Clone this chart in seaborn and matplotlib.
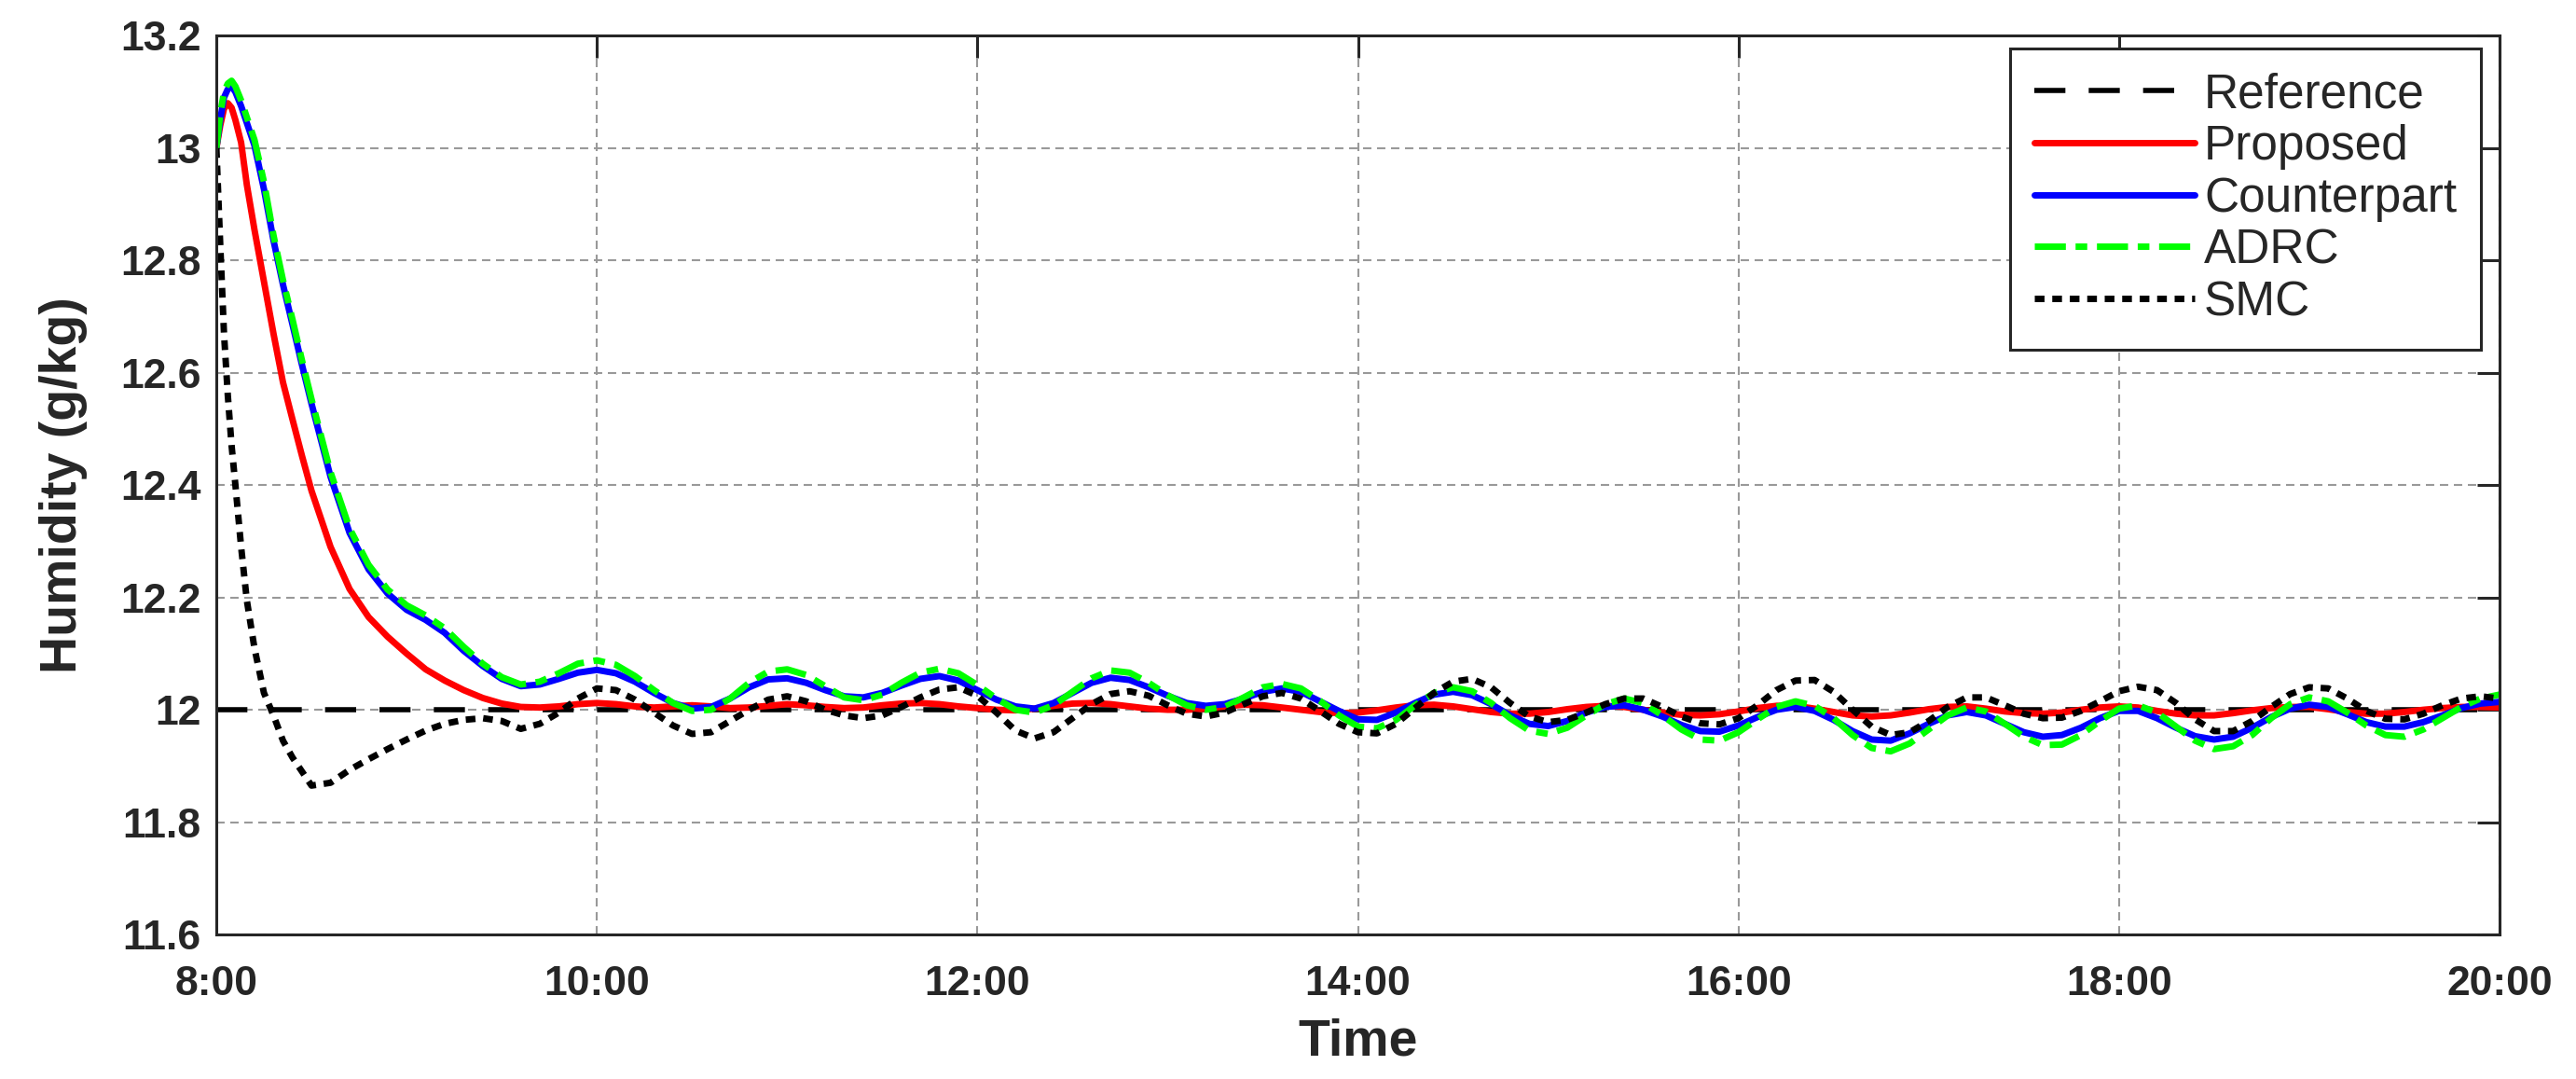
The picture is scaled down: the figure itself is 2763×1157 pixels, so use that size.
import matplotlib
matplotlib.use('Agg')
import pandas as pd
import seaborn as sns
import matplotlib.pyplot as plt
from matplotlib.ticker import FuncFormatter

# Time axis (hours of the day), denser during the start-up transient
hours = [
    8.00, 8.02, 8.04, 8.06, 8.08, 8.10, 8.13, 8.16, 8.20, 8.25,
    8.30, 8.35, 8.40, 8.45, 8.50, 8.60, 8.70, 8.80, 8.90, 9.00,
    9.1, 9.2, 9.3, 9.4, 9.5, 9.6, 9.7, 9.8, 9.9, 10.0,
    10.1, 10.2, 10.3, 10.4, 10.5, 10.6, 10.7, 10.8, 10.9, 11.0,
    11.1, 11.2, 11.3, 11.4, 11.5, 11.6, 11.7, 11.8, 11.9, 12.0,
    12.1, 12.2, 12.3, 12.4, 12.5, 12.6, 12.7, 12.8, 12.9, 13.0,
    13.1, 13.2, 13.3, 13.4, 13.5, 13.6, 13.7, 13.8, 13.9, 14.0,
    14.1, 14.2, 14.3, 14.4, 14.5, 14.6, 14.7, 14.8, 14.9, 15.0,
    15.1, 15.2, 15.3, 15.4, 15.5, 15.6, 15.7, 15.8, 15.9, 16.0,
    16.1, 16.2, 16.3, 16.4, 16.5, 16.6, 16.7, 16.8, 16.9, 17.0,
    17.1, 17.2, 17.3, 17.4, 17.5, 17.6, 17.7, 17.8, 17.9, 18.0,
    18.1, 18.2, 18.3, 18.4, 18.5, 18.6, 18.7, 18.8, 18.9, 19.0,
    19.1, 19.2, 19.3, 19.4, 19.5, 19.6, 19.7, 19.8, 19.9, 20.0,
]

# Setpoint
ref_hours = [8.0, 20.0]
reference = [12.0, 12.0]

proposed = [
    13.000, 13.040, 13.070, 13.080, 13.072, 13.050, 13.010, 12.935, 12.855, 12.763,
    12.670, 12.583, 12.517, 12.452, 12.390, 12.290, 12.215, 12.165, 12.130, 12.100,
    12.072, 12.052, 12.035, 12.021, 12.011, 12.005, 12.004, 12.006, 12.010, 12.012,
    12.010, 12.006, 12.004, 12.006, 12.008, 12.006, 12.003, 12.004, 12.007, 12.010,
    12.008, 12.005, 12.003, 12.004, 12.008, 12.011, 12.012, 12.010, 12.006, 12.003,
    12.000, 11.999, 12.002, 12.007, 12.011, 12.012, 12.010, 12.006, 12.002, 12.000,
    12.000, 12.002, 12.006, 12.009, 12.008, 12.004, 12.000, 11.996, 11.994, 11.995,
    11.999, 12.004, 12.008, 12.009, 12.006, 12.001, 11.996, 11.993, 11.993, 11.996,
    12.001, 12.005, 12.007, 12.005, 12.000, 11.995, 11.991, 11.990, 11.992, 11.997,
    12.003, 12.007, 12.007, 12.002, 11.996, 11.990, 11.988, 11.990, 11.995, 12.001,
    12.005, 12.006, 12.002, 11.997, 11.994, 11.993, 11.995, 12.000, 12.004, 12.006,
    12.004, 11.998, 11.993, 11.990, 11.990, 11.994, 11.999, 12.003, 12.005, 12.005,
    12.001, 11.996, 11.993, 11.993, 11.996, 12.000, 12.003, 12.005, 12.005, 12.004,
]

counterpart = [
    13.000, 13.050, 13.090, 13.105, 13.110, 13.100, 13.075, 13.045, 13.005, 12.927,
    12.836, 12.757, 12.686, 12.614, 12.545, 12.415, 12.315, 12.250, 12.207, 12.178,
    12.160, 12.137, 12.105, 12.078, 12.055, 12.042, 12.045, 12.055, 12.066, 12.071,
    12.065, 12.050, 12.030, 12.012, 12.002, 12.005, 12.020, 12.040, 12.054, 12.056,
    12.048, 12.035, 12.024, 12.022, 12.030, 12.043, 12.055, 12.060, 12.052, 12.035,
    12.018, 12.006, 12.002, 12.012, 12.030, 12.048, 12.057, 12.053, 12.040, 12.025,
    12.012, 12.007, 12.010, 12.020, 12.032, 12.038, 12.032, 12.015, 11.998, 11.983,
    11.982, 11.995, 12.012, 12.027, 12.032, 12.026, 12.010, 11.990, 11.975, 11.971,
    11.980, 11.995, 12.005, 12.008, 12.000, 11.988, 11.973, 11.962, 11.961, 11.972,
    11.987, 12.000, 12.005, 11.998, 11.982, 11.962, 11.947, 11.945, 11.958, 11.975,
    11.990, 11.996, 11.990, 11.975, 11.960, 11.952, 11.955, 11.968, 11.985, 11.998,
    11.998, 11.985, 11.968, 11.953, 11.947, 11.952, 11.968, 11.987, 12.002, 12.009,
    12.005, 11.992, 11.978, 11.970, 11.970, 11.978, 11.990, 12.003, 12.011, 12.014,
]

adrc = [
    13.000, 13.060, 13.100, 13.115, 13.120, 13.110, 13.085, 13.055, 13.015, 12.940,
    12.845, 12.765, 12.695, 12.622, 12.553, 12.423, 12.323, 12.258, 12.214, 12.186,
    12.168, 12.145, 12.112, 12.082, 12.058, 12.045, 12.050, 12.065, 12.082, 12.088,
    12.080, 12.060, 12.035, 12.012, 11.998, 12.000, 12.020, 12.048, 12.068, 12.072,
    12.062, 12.042, 12.022, 12.017, 12.027, 12.048, 12.066, 12.073, 12.065, 12.044,
    12.020, 12.000, 11.995, 12.008, 12.032, 12.056, 12.070, 12.066, 12.048, 12.026,
    12.008, 12.000, 12.005, 12.022, 12.040, 12.046, 12.038, 12.016, 11.990, 11.970,
    11.967, 11.982, 12.008, 12.030, 12.040, 12.033, 12.012, 11.985, 11.963, 11.957,
    11.968, 11.990, 12.010, 12.020, 12.012, 11.990, 11.965, 11.947, 11.945, 11.960,
    11.983, 12.005, 12.015, 12.007, 11.985, 11.955, 11.932, 11.926, 11.940, 11.965,
    11.990, 12.004, 11.997, 11.975, 11.952, 11.937, 11.938, 11.955, 11.980, 12.002,
    12.008, 11.995, 11.970, 11.945, 11.930, 11.935, 11.955, 11.985, 12.010, 12.022,
    12.015, 11.995, 11.972, 11.955, 11.952, 11.965, 11.985, 12.005, 12.020, 12.027,
]

smc = [
    13.000, 12.830, 12.670, 12.560, 12.470, 12.400, 12.290, 12.195, 12.110, 12.030,
    11.990, 11.945, 11.915, 11.890, 11.865, 11.870, 11.893, 11.912, 11.930, 11.947,
    11.963, 11.975, 11.982, 11.985, 11.980, 11.966, 11.975, 11.995, 12.020, 12.038,
    12.035, 12.018, 11.995, 11.972, 11.957, 11.960, 11.980, 12.000, 12.018, 12.024,
    12.015, 12.000, 11.990, 11.985, 11.990, 12.005, 12.022, 12.036, 12.040, 12.025,
    11.995, 11.963, 11.949, 11.960, 11.985, 12.010, 12.028, 12.033, 12.025, 12.008,
    11.993, 11.988, 11.995, 12.010, 12.024, 12.030, 12.020, 11.998, 11.975, 11.960,
    11.958, 11.975, 12.003, 12.030, 12.050, 12.055, 12.040, 12.012, 11.988, 11.978,
    11.982, 11.995, 12.010, 12.020, 12.020, 12.005, 11.988, 11.976, 11.974, 11.985,
    12.008, 12.035, 12.052, 12.053, 12.032, 12.000, 11.970, 11.955, 11.960, 11.980,
    12.005, 12.022, 12.022, 12.008, 11.993, 11.985, 11.986, 11.998, 12.015, 12.033,
    12.041, 12.035, 12.012, 11.983, 11.962, 11.962, 11.980, 12.005, 12.028, 12.040,
    12.038, 12.020, 11.998, 11.984, 11.983, 11.993, 12.008, 12.020, 12.024, 12.020,
]

x_ticks = [8, 10, 12, 14, 16, 18, 20]
x_tick_labels = ['8:00', '10:00', '12:00', '14:00', '16:00', '18:00', '20:00']
y_ticks = [11.6, 11.8, 12.0, 12.2, 12.4, 12.6, 12.8, 13.0, 13.2]

for s in (proposed, counterpart, adrc, smc):
    assert len(s) == len(hours)

df = pd.DataFrame({'Time': hours, 'Proposed': proposed, 'Counterpart': counterpart,
                   'ADRC': adrc, 'SMC': smc})
df_ref = pd.DataFrame({'Time': ref_hours, 'Reference': reference})

sns.set_style('white')
plt.rcParams['font.family'] = ['Liberation Sans', 'DejaVu Sans']

ink = '#262626'
fig = plt.figure(figsize=(27.63, 11.57), dpi=100)
ax = fig.add_axes([0.0840, 0.1340, 0.8863, 0.8328])

sns.lineplot(data=df_ref, x='Time', y='Reference', color='black', lw=4,
             linestyle=(0, (6, 4.5)), label='Reference', ax=ax)

styles = [
    ('Proposed', (1, 0, 0), '-'),
    ('Counterpart', (0, 0, 1), '-'),
    ('ADRC', (0, 1, 0), (0, (4.8, 1.5, 1.8, 1.5))),
    ('SMC', 'black', (0, (1.5, 1.2))),
]
for name, col, ls in styles:
    sns.lineplot(data=df, x='Time', y=name, color=col, lw=5, linestyle=ls,
                 estimator=None, sort=False, label=name, ax=ax)

ax.set_xlim(8, 20)
ax.set_ylim(11.6, 13.2)
ax.set_xticks(x_ticks)
ax.set_xticklabels(x_tick_labels)
ax.set_yticks(y_ticks)
ax.yaxis.set_major_formatter(FuncFormatter(lambda v, p: '%g' % round(v, 1)))

ax.grid(True, color='#999999', lw=1.5, linestyle=(0, (4.3, 2.9)))
ax.set_axisbelow(True)
for sp in ax.spines.values():
    sp.set_visible(True)
    sp.set_color(ink)
    sp.set_linewidth(2.2)

ax.tick_params(direction='in', length=17, width=2.2, top=True, right=True,
               labelsize=32, colors=ink)
ax.tick_params(axis='x', pad=24)
ax.tick_params(axis='y', pad=12)
for lab in ax.get_xticklabels() + ax.get_yticklabels():
    lab.set_fontweight('bold')

ax.set_xlabel('Time', fontsize=40, fontweight='bold', color=ink, labelpad=11)
ax.set_ylabel('Humidity (g/kg)', fontsize=40, fontweight='bold', color=ink, labelpad=25)

leg = ax.legend(loc='upper right', bbox_to_anchor=(0.9918, 0.9863), borderaxespad=0,
                fontsize=37, handlelength=3.35, handletextpad=0.2, labelspacing=0.13,
                borderpad=0.5, fancybox=False, framealpha=1, edgecolor=ink)
leg.get_frame().set_linewidth(2.2)

fig.savefig('out.png', dpi=100)
